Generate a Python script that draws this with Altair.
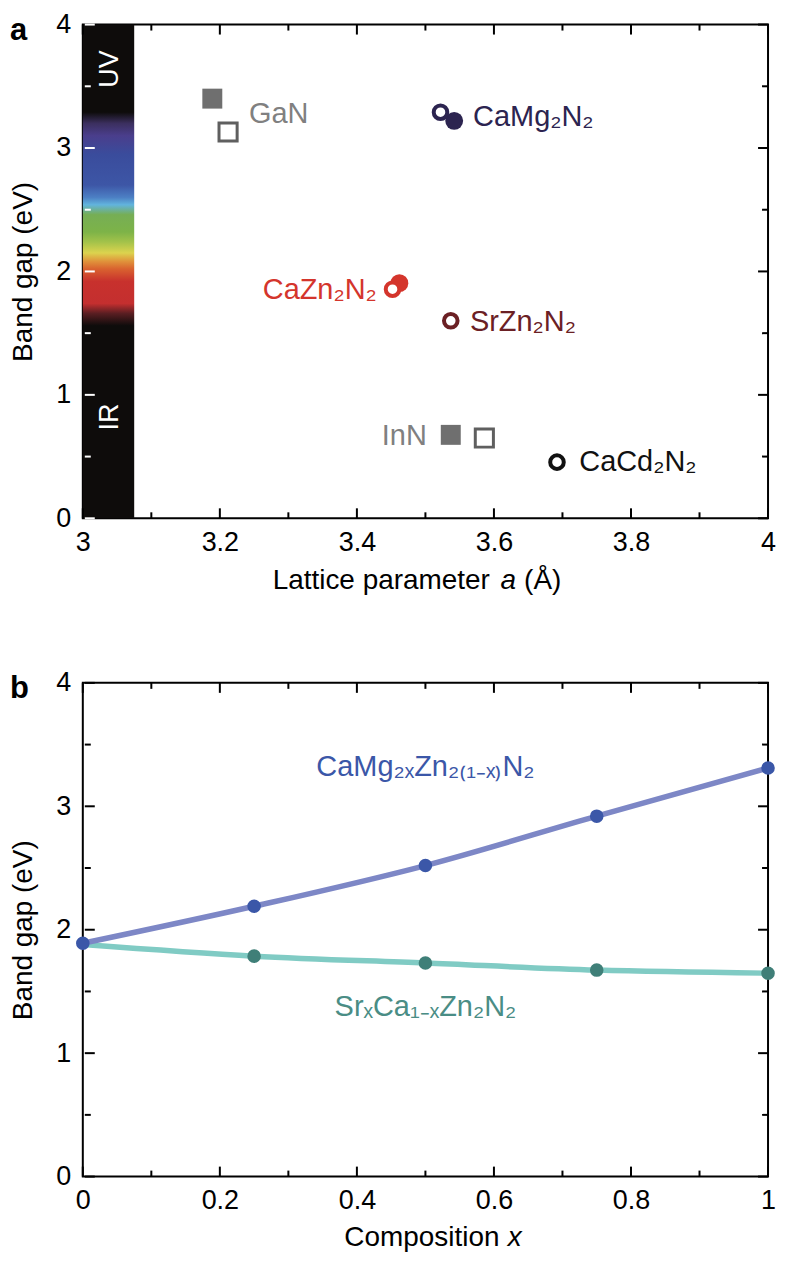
import altair as alt
import pandas as pd

FONT = "Liberation Sans"
W, H = 687, 495

# ---------------- Panel a: band gap vs lattice parameter ----------------
# III-nitrides: filled = experiment, open = calculation
nitride_names = ["GaN", "InN"]
nitride_a_filled = [3.189, 3.537]
nitride_gap_filled = [3.40, 0.676]
nitride_a_open = [3.212, 3.586]
nitride_gap_open = [3.13, 0.65]

# II-II-N2 compounds: filled = experiment, open = calculation
ternary_filled_names = ["CaMg2N2", "CaZn2N2"]
ternary_filled_a = [3.542, 3.462]
ternary_filled_gap = [3.22, 1.905]

ternary_open_names = ["CaMg2N2", "CaZn2N2", "SrZn2N2", "CaCd2N2"]
ternary_open_a = [3.522, 3.452, 3.537, 3.692]
ternary_open_gap = [3.29, 1.856, 1.60, 0.455]

# visible-spectrum strip along the energy axis
strip_a = [3.0, 3.075]
strip_gap = [0.0, 4.0]
strip_stop_ev = [0.0, 1.56, 1.66, 1.74, 1.92, 2.02, 2.08, 2.15, 2.24, 2.32, 2.46, 2.54,
                 2.60, 2.70, 2.95, 3.10, 3.20, 3.29, 4.0]
strip_stop_color = ["#0e0c0b", "#0e0c0b", "#5a1e22", "#c42f2f", "#c8312d", "#d9622f",
                    "#e0913a", "#dcd34e", "#a2c24a", "#7db348", "#76ae55", "#62b4dd",
                    "#4c7fc4", "#3d56a6", "#3a4c9c", "#4a3e8c", "#3b2f5e", "#0e0c0b", "#0e0c0b"]
region_text = ["UV", "IR"]
region_a = [3.039, 3.039]
region_gap = [3.64, 0.82]

# point labels
label_left_text = ["GaN", "CaMg₂N₂", "SrZn₂N₂", "CaCd₂N₂"]
label_left_key = ["GaN", "CaMg2N2", "SrZn2N2", "CaCd2N2"]
label_left_a = [3.2425, 3.5696, 3.565, 3.7245]
label_left_gap = [3.277, 3.248, 1.59, 0.452]
label_right_text = ["CaZn₂N₂", "InN"]
label_right_key = ["CaZn2N2", "InN"]
label_right_a = [3.429, 3.502]
label_right_gap = [1.85, 0.663]

a_ticks_major = [3.0, 3.2, 3.4, 3.6, 3.8, 4.0]
a_ticks_minor = [3.1, 3.3, 3.5, 3.7, 3.9]
gap_ticks_major = [0, 1, 2, 3, 4]
gap_ticks_minor = [0.5, 1.5, 2.5, 3.5]

# ---------------- Panel b: band gap vs composition ----------------
composition = [0.0, 0.25, 0.5, 0.75, 1.0]
gap_camg_zn = [1.89, 2.19, 2.52, 2.92, 3.31]
gap_sr_ca = [1.88, 1.786, 1.73, 1.673, 1.648]
comp_ticks_major = [0.0, 0.2, 0.4, 0.6, 0.8, 1.0]
comp_ticks_minor = [0.1, 0.3, 0.5, 0.7, 0.9]

# ---------------- styles ----------------
key_domain = ["CaMg2N2", "CaZn2N2", "SrZn2N2", "CaCd2N2", "GaN", "InN"]
key_range = ["#2c2450", "#d4352c", "#6b2024", "#111111", "#808080", "#808080"]
key_scale = alt.Scale(domain=key_domain, range=key_range)

sx_a = alt.Scale(domain=[3, 4], nice=False, zero=False)
sx_b = alt.Scale(domain=[0, 1], nice=False, zero=False)
sy = alt.Scale(domain=[0, 4], nice=False, zero=False)
PX = H / 4.0  # pixels per eV

ax_x_a = alt.Axis(values=a_ticks_major, format=".1~f", title=None, labelPadding=11,
                  labelFlush=False)
ax_x_b = alt.Axis(values=comp_ticks_major, format=".1~f", title=None, labelPadding=11,
                  labelFlush=False)
ax_y = alt.Axis(values=gap_ticks_major, format="d", title="Band gap (eV)",
                labelPadding=12, titlePadding=18, labelFlush=False)


def X(field, scale, axis):
    return alt.X(f"{field}:Q", scale=scale, axis=axis)


def Y(field):
    return alt.Y(f"{field}:Q", scale=sy, axis=ax_y)


def tick_layers(xs, xaxis, xmaj, xmin, left_color):
    out = []
    for vals, ln in ((xmaj, 10), (xmin, 6)):
        d = pd.DataFrame({"v": vals})
        base = alt.Chart(d).mark_rule(color="black", strokeWidth=2)
        out.append(base.encode(x=X("v", xs, xaxis), y=alt.value(H), y2=alt.value(H - ln)))
        out.append(base.encode(x=X("v", xs, xaxis), y=alt.value(0), y2=alt.value(ln)))
    for vals, ln in ((gap_ticks_major, 10), (gap_ticks_minor, 6)):
        d = pd.DataFrame({"v": vals})
        out.append(alt.Chart(d).mark_rule(color=left_color, strokeWidth=2).encode(
            y=Y("v"), x=alt.value(2), x2=alt.value(2 + ln)))
        out.append(alt.Chart(d).mark_rule(color="black", strokeWidth=2).encode(
            y=Y("v"), x=alt.value(W), x2=alt.value(W - ln)))
    return out


def text_layer(df, xs, xaxis, **mark):
    return alt.Chart(df).mark_text(font=FONT, **mark).encode(
        x=X("x", xs, xaxis), y=Y("y"), text="t:N")


# ---------------- panel a layers ----------------
gradient = alt.Gradient(
    gradient="linear", x1=0, x2=0, y1=1, y2=0,
    stops=[alt.GradientStop(color=c, offset=v / 4.0)
           for v, c in zip(strip_stop_ev, strip_stop_color)])
strip_df = pd.DataFrame({"x": [strip_a[0]], "x2": [strip_a[1]],
                         "y": [strip_gap[0]], "y2": [strip_gap[1]]})
strip = alt.Chart(strip_df).mark_rect(fill=gradient).encode(
    x=X("x", sx_a, ax_x_a), x2="x2:Q", y=Y("y"), y2="y2:Q")

regions = text_layer(pd.DataFrame({"t": region_text, "x": region_a, "y": region_gap}),
                     sx_a, ax_x_a, angle=270, color="white", fontSize=27,
                     align="center", baseline="middle")

sq_filled = alt.Chart(pd.DataFrame({"x": nitride_a_filled, "y": nitride_gap_filled})).mark_point(
    shape="square", filled=True, size=400, color="#6f6f6f", opacity=1).encode(
    x=X("x", sx_a, ax_x_a), y=Y("y"))
sq_open = alt.Chart(pd.DataFrame({"x": nitride_a_open, "y": nitride_gap_open})).mark_point(
    shape="square", filled=False, size=330, strokeWidth=3, color="#5f5f5f", opacity=1).encode(
    x=X("x", sx_a, ax_x_a), y=Y("y"))

c_filled = alt.Chart(pd.DataFrame({"k": ternary_filled_names, "x": ternary_filled_a,
                                   "y": ternary_filled_gap})).mark_circle(
    size=320, opacity=1).encode(
    x=X("x", sx_a, ax_x_a), y=Y("y"), color=alt.Color("k:N", scale=key_scale, legend=None))
c_open = alt.Chart(pd.DataFrame({"k": ternary_open_names, "x": ternary_open_a,
                                 "y": ternary_open_gap})).mark_point(
    shape="circle", fill="white", fillOpacity=1, size=185, strokeWidth=4, opacity=1).encode(
    x=X("x", sx_a, ax_x_a), y=Y("y"), stroke=alt.Stroke("k:N", scale=key_scale, legend=None))

lab_left = alt.Chart(pd.DataFrame({"t": label_left_text, "k": label_left_key,
                                   "x": label_left_a, "y": label_left_gap})).mark_text(
    font=FONT, fontSize=29, align="left", baseline="middle").encode(
    x=X("x", sx_a, ax_x_a), y=Y("y"), text="t:N",
    color=alt.Color("k:N", scale=key_scale, legend=None))
lab_right = alt.Chart(pd.DataFrame({"t": label_right_text, "k": label_right_key,
                                    "x": label_right_a, "y": label_right_gap})).mark_text(
    font=FONT, fontSize=29, align="right", baseline="middle").encode(
    x=X("x", sx_a, ax_x_a), y=Y("y"), text="t:N",
    color=alt.Color("k:N", scale=key_scale, legend=None))

TA = -71 / PX
xt_a = [
    text_layer(pd.DataFrame({"t": ["Lattice parameter"], "x": [3.594], "y": [TA]}),
               sx_a, ax_x_a, fontSize=28, align="right", baseline="alphabetic", color="black"),
    text_layer(pd.DataFrame({"t": ["a"], "x": [3.621], "y": [TA]}),
               sx_a, ax_x_a, fontSize=28, align="center", baseline="alphabetic",
               fontStyle="italic", color="black"),
    text_layer(pd.DataFrame({"t": ["(Å)"], "x": [3.644], "y": [TA]}),
               sx_a, ax_x_a, fontSize=28, align="left", baseline="alphabetic", color="black"),
]
LTOP = 4 + 9 / PX
letter_a = text_layer(pd.DataFrame({"t": ["a"], "x": [3 - 73 / W], "y": [LTOP]}),
                      sx_a, ax_x_a, fontSize=31, fontWeight="bold", align="left",
                      baseline="top", color="black")

panel_a = alt.layer(
    strip, regions, *tick_layers(sx_a, ax_x_a, a_ticks_major, a_ticks_minor, "white"),
    sq_filled, sq_open, c_filled, c_open, lab_left, lab_right, *xt_a, letter_a
).properties(width=W, height=H)

# ---------------- panel b layers ----------------
df_b = pd.DataFrame({"x": composition, "mg": gap_camg_zn, "sr": gap_sr_ca})
line_sr = alt.Chart(df_b).mark_line(interpolate="monotone", color="#80cbc4", strokeWidth=5.5).encode(
    x=X("x", sx_b, ax_x_b), y=Y("sr"))
line_mg = alt.Chart(df_b).mark_line(interpolate="monotone", color="#7d87c6", strokeWidth=5.5).encode(
    x=X("x", sx_b, ax_x_b), y=Y("mg"))
pts_sr = alt.Chart(df_b).transform_filter("datum.x > 0").mark_circle(
    size=185, color="#3f7f78", opacity=1).encode(x=X("x", sx_b, ax_x_b), y=Y("sr"))
pts_mg = alt.Chart(df_b).mark_circle(size=185, color="#3b57a8", opacity=1).encode(
    x=X("x", sx_b, ax_x_b), y=Y("mg"))

series_label_mg = text_layer(pd.DataFrame({"t": ["CaMg₂ₓZn₂₍₁₋ₓ₎N₂"], "x": [0.5], "y": [3.32]}),
                             sx_b, ax_x_b, fontSize=29, align="center", baseline="middle",
                             color="#3b57a8")
series_label_sr = text_layer(pd.DataFrame({"t": ["SrₓCa₁₋ₓZn₂N₂"], "x": [0.5], "y": [1.37]}),
                             sx_b, ax_x_b, fontSize=29, align="center", baseline="middle",
                             color="#4a8d85")
TB = -70 / PX
xt_b = [
    text_layer(pd.DataFrame({"t": ["Composition"], "x": [0.608], "y": [TB]}),
               sx_b, ax_x_b, fontSize=28, align="right", baseline="alphabetic", color="black"),
    text_layer(pd.DataFrame({"t": ["x"], "x": [0.62], "y": [TB]}),
               sx_b, ax_x_b, fontSize=28, align="left", baseline="alphabetic",
               fontStyle="italic", color="black"),
]
letter_b = text_layer(pd.DataFrame({"t": ["b"], "x": [-73 / W], "y": [LTOP]}),
                      sx_b, ax_x_b, fontSize=31, fontWeight="bold", align="left",
                      baseline="top", color="black")

panel_b = alt.layer(
    *tick_layers(sx_b, ax_x_b, comp_ticks_major, comp_ticks_minor, "black"),
    line_sr, line_mg, pts_sr, pts_mg, series_label_mg, series_label_sr, *xt_b, letter_b
).properties(width=W, height=H)

chart = alt.vconcat(
    panel_a, panel_b, spacing=165, bounds="flush", padding=0, background="white"
).configure_view(
    stroke="black", strokeWidth=2
).configure_axis(
    domain=False, ticks=False, grid=False,
    labelFont=FONT, labelFontSize=27, labelColor="black",
    titleFont=FONT, titleFontSize=28, titleFontWeight="normal", titleColor="black"
)

chart.save("out.html", embed_options={"renderer": "svg", "actions": False})
